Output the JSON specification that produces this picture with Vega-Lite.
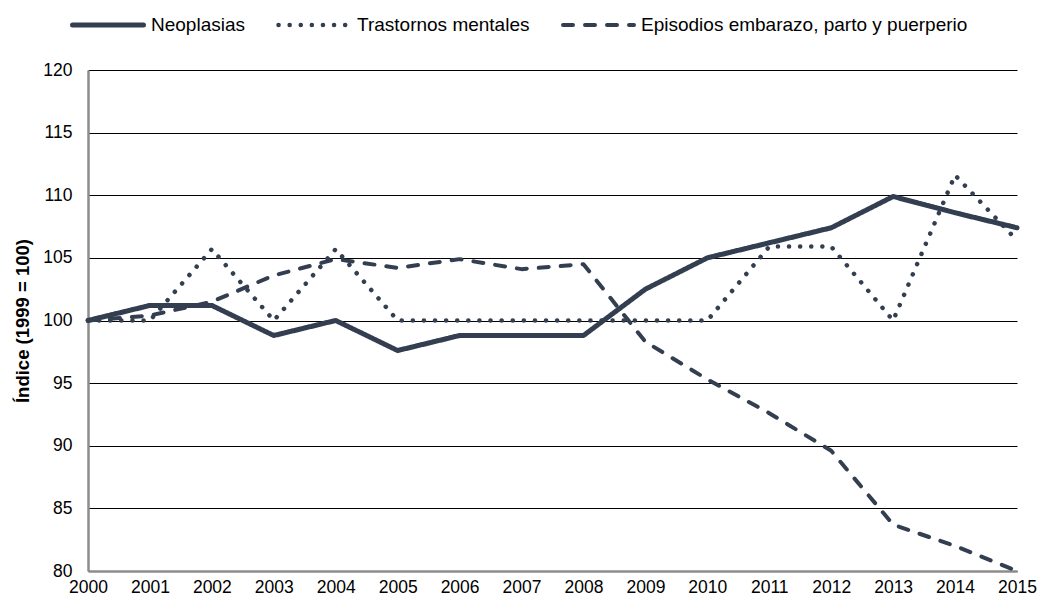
{
  "$schema": "https://vega.github.io/schema/vega-lite/v6.json",
  "width": 929,
  "height": 501,
  "autosize": {"type": "none"},
  "padding": {"left": 88, "top": 70, "right": 23, "bottom": 32},
  "background": "white",
  "config": {
    "view": {"stroke": null},
    "font": "Liberation Sans",
    "axis": {"labelFont": "Liberation Sans", "labelColor": "#000", "labelFontSize": 17.5, "titleFont": "Liberation Sans"}
  },
  "data": {
    "values": [
      {"year": 2000, "serie": "Neoplasias", "value": 100},
      {"year": 2001, "serie": "Neoplasias", "value": 101.2},
      {"year": 2002, "serie": "Neoplasias", "value": 101.2},
      {"year": 2003, "serie": "Neoplasias", "value": 98.8},
      {"year": 2004, "serie": "Neoplasias", "value": 100},
      {"year": 2005, "serie": "Neoplasias", "value": 97.6},
      {"year": 2006, "serie": "Neoplasias", "value": 98.8},
      {"year": 2007, "serie": "Neoplasias", "value": 98.8},
      {"year": 2008, "serie": "Neoplasias", "value": 98.8},
      {"year": 2009, "serie": "Neoplasias", "value": 102.5},
      {"year": 2010, "serie": "Neoplasias", "value": 105.0},
      {"year": 2011, "serie": "Neoplasias", "value": 106.2},
      {"year": 2012, "serie": "Neoplasias", "value": 107.4},
      {"year": 2013, "serie": "Neoplasias", "value": 109.9},
      {"year": 2014, "serie": "Neoplasias", "value": 108.6},
      {"year": 2015, "serie": "Neoplasias", "value": 107.4},
      {"year": 2000, "serie": "Trastornos mentales", "value": 100},
      {"year": 2001, "serie": "Trastornos mentales", "value": 100},
      {"year": 2002, "serie": "Trastornos mentales", "value": 105.7},
      {"year": 2003, "serie": "Trastornos mentales", "value": 100},
      {"year": 2004, "serie": "Trastornos mentales", "value": 105.7},
      {"year": 2005, "serie": "Trastornos mentales", "value": 100},
      {"year": 2006, "serie": "Trastornos mentales", "value": 100},
      {"year": 2007, "serie": "Trastornos mentales", "value": 100},
      {"year": 2008, "serie": "Trastornos mentales", "value": 100},
      {"year": 2009, "serie": "Trastornos mentales", "value": 100},
      {"year": 2010, "serie": "Trastornos mentales", "value": 100},
      {"year": 2011, "serie": "Trastornos mentales", "value": 105.9},
      {"year": 2012, "serie": "Trastornos mentales", "value": 105.9},
      {"year": 2013, "serie": "Trastornos mentales", "value": 100},
      {"year": 2014, "serie": "Trastornos mentales", "value": 111.6},
      {"year": 2015, "serie": "Trastornos mentales", "value": 106.4},
      {"year": 2000, "serie": "Episodios embarazo, parto y puerperio", "value": 100},
      {"year": 2001, "serie": "Episodios embarazo, parto y puerperio", "value": 100.4},
      {"year": 2002, "serie": "Episodios embarazo, parto y puerperio", "value": 101.5},
      {"year": 2003, "serie": "Episodios embarazo, parto y puerperio", "value": 103.6},
      {"year": 2004, "serie": "Episodios embarazo, parto y puerperio", "value": 104.9},
      {"year": 2005, "serie": "Episodios embarazo, parto y puerperio", "value": 104.2},
      {"year": 2006, "serie": "Episodios embarazo, parto y puerperio", "value": 104.9},
      {"year": 2007, "serie": "Episodios embarazo, parto y puerperio", "value": 104.1},
      {"year": 2008, "serie": "Episodios embarazo, parto y puerperio", "value": 104.5},
      {"year": 2009, "serie": "Episodios embarazo, parto y puerperio", "value": 98.3},
      {"year": 2010, "serie": "Episodios embarazo, parto y puerperio", "value": 95.3},
      {"year": 2011, "serie": "Episodios embarazo, parto y puerperio", "value": 92.6},
      {"year": 2012, "serie": "Episodios embarazo, parto y puerperio", "value": 89.6},
      {"year": 2013, "serie": "Episodios embarazo, parto y puerperio", "value": 83.7},
      {"year": 2014, "serie": "Episodios embarazo, parto y puerperio", "value": 82.0},
      {"year": 2015, "serie": "Episodios embarazo, parto y puerperio", "value": 80.0}
    ]
  },
  "mark": {"type": "line", "strokeCap": "round", "strokeJoin": "round", "clip": false},
  "encoding": {
    "x": {
      "field": "year", "type": "quantitative",
      "scale": {"domain": [2000, 2015], "nice": false, "zero": false},
      "axis": {
        "title": null, "format": "d",
        "values": [2000,2001,2002,2003,2004,2005,2006,2007,2008,2009,2010,2011,2012,2013,2014,2015],
        "grid": false, "ticks": false, "labelPadding": 7,
        "domainColor": "#8c8c8c", "domainWidth": 2.5, "labelFlush": false
      }
    },
    "y": {
      "field": "value", "type": "quantitative",
      "scale": {"domain": [80, 120], "nice": false, "zero": false},
      "axis": {
        "title": "Índice (1999 = 100)", "titleFontWeight": "bold", "titleFontSize": 18.5, "titleColor": "#000", "titlePadding": 10,
        "values": [80,85,90,95,100,105,110,115,120],
        "grid": true, "gridColor": "#000", "gridWidth": 1, "gridOpacity": 1,
        "ticks": false, "labelPadding": 16,
        "domainColor": "#8c8c8c", "domainWidth": 2.5
      }
    },
    "color": {
      "field": "serie", "type": "nominal", "title": null,
      "scale": {
        "domain": ["Neoplasias", "Trastornos mentales", "Episodios embarazo, parto y puerperio"],
        "range": ["#333f50", "#333f50", "#333f50"]
      },
      "legend": {
        "orient": "none", "legendX": -18, "legendY": -55, "direction": "horizontal",
        "symbolType": "stroke", "symbolSize": 5041, "symbolStrokeWidth": 4, "clipHeight": 20,
        "labelFontSize": 19, "labelColor": "#000", "labelFont": "Liberation Sans", "labelLimit": 500,
        "columnPadding": 31, "labelOffset": 5,
        "encode": {"symbols": {"update": {"strokeCap": {"value": "round"}}}}
      }
    },
    "strokeDash": {
      "field": "serie", "type": "nominal", "title": null,
      "scale": {
        "domain": ["Neoplasias", "Trastornos mentales", "Episodios embarazo, parto y puerperio"],
        "range": [[1, 0], [0.1, 11], [10, 12]]
      }
    },
    "strokeWidth": {
      "field": "serie", "type": "nominal", "title": null,
      "scale": {
        "domain": ["Neoplasias", "Trastornos mentales", "Episodios embarazo, parto y puerperio"],
        "range": [5, 4, 3.2]
      }
    }
  }
}
